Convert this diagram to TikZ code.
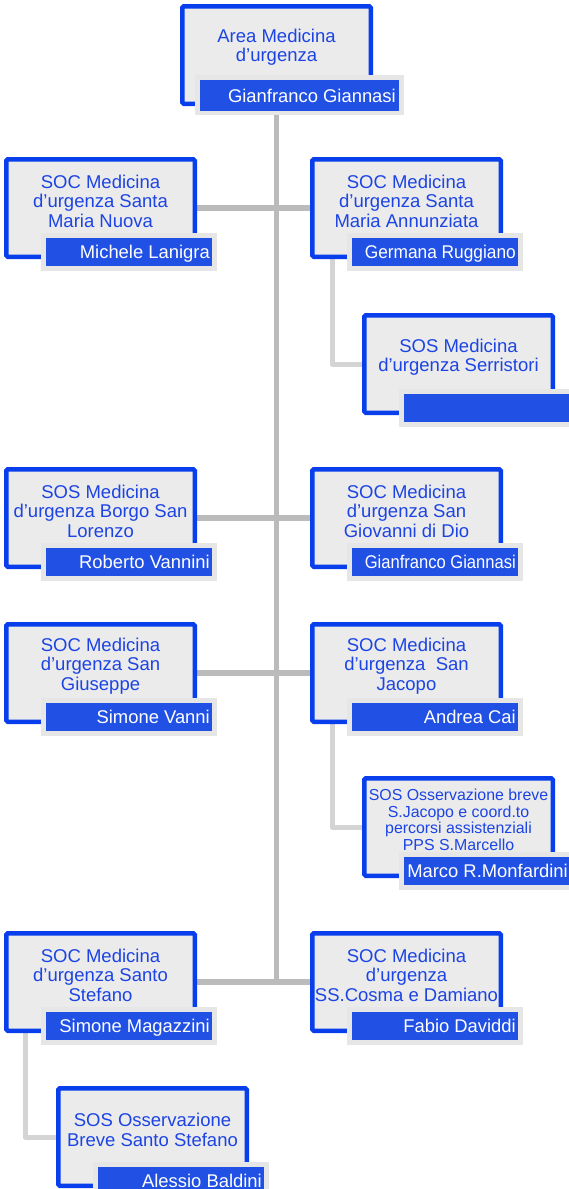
\documentclass[tikz,border=0pt]{standalone}
\usepackage{fontspec}
\setmainfont{Liberation Sans}
\usepackage{graphicx}
\usetikzlibrary{backgrounds}
\definecolor{bordblue}{RGB}{8,62,236}
\definecolor{barblue}{RGB}{32,80,228}
\definecolor{txtblue}{RGB}{28,68,228}
\definecolor{boxfill}{RGB}{235,235,235}
\definecolor{bargray}{RGB}{230,230,230}
\definecolor{trunkgray}{RGB}{187,187,187}
\definecolor{subgray}{RGB}{212,212,212}
\newsavebox\nmbox
\newcommand\fitname[2]{\sbox\nmbox{#2}\ifdim\wd\nmbox>#1\relax\resizebox{#1}{\height}{#2}\else\usebox\nmbox\fi}
\newcommand\orgunit[7]{%
  \node[unitbox] (#1) at (#2+96.5,#3+51) {};
  \node[#7] (#1-t) at (#2+96.5,#3+44) {#4};
  \node[namebg] (#1-g) at (#2+125,#3+95) {};
  \node[namebar] (#1-n) at (#2+125,#3+95) {};
  \node[nametext] (#1-p) at (#2+206,#3+101) {\fitname{#6}{#5}};
}
\tikzset{
  unitbox/.style={draw=bordblue, line width=4.5pt, fill=boxfill, rounded corners=1.5pt,
    minimum width=188.5pt, minimum height=97.5pt, inner sep=0pt},
  unittext/.style={text=txtblue, align=center, inner sep=0pt,
    font=\fontsize{18.5pt}{19.5pt}\selectfont},
  smalltext/.style={text=txtblue, align=center, inner sep=0pt,
    font=\fontsize{15.9pt}{16.5pt}\selectfont},
  namebg/.style={fill=bargray, minimum width=176pt, minimum height=38pt, inner sep=0pt, outer sep=0pt},
  namebar/.style={fill=barblue, minimum width=166pt, minimum height=28pt, inner sep=0pt, outer sep=0pt},
  nametext/.style={text=white, anchor=base east, inner sep=0pt,
    font=\fontsize{18.4pt}{20pt}\selectfont},
  trunk/.style={draw=trunkgray, line width=5.5pt},
  subline/.style={draw=subgray, line width=5pt, line join=round},
}
\begin{document}
\begin{tikzpicture}[x=1pt,y=-1pt]
\useasboundingbox (0,0) rectangle (568,1189);
% connector anchor columns
\coordinate (subR) at (332,0);
\coordinate (subL) at (25,0);
% top unit
\node[unitbox] (top) at (276.5,55) {};
\node[unittext] (top-t) at (276.5,47) {Area Medicina\\d’urgenza};
\node[fill=bargray, minimum width=209pt, minimum height=40pt, inner sep=0pt] (top-g) at (299.5,95) {};
\node[fill=barblue, minimum width=199pt, minimum height=31pt, inner sep=0pt] (top-n) at (299.5,95.5) {};
\node[nametext] (top-p) at (396,102) {Gianfranco Giannasi};
% units
\orgunit{smn}{4}{157}{SOC Medicina\\d’urgenza Santa\\Maria Nuova}{Michele Lanigra}{151pt}{unittext}
\orgunit{sma}{310}{157}{SOC Medicina\\d’urgenza Santa\\Maria Annunziata}{Germana Ruggiano}{151pt}{unittext}
\orgunit{serr}{362}{313}{SOS Medicina\\d’urgenza Serristori}{}{170pt}{unittext}
\orgunit{bsl}{4}{467}{SOS Medicina\\d’urgenza Borgo San\\Lorenzo}{Roberto Vannini}{151pt}{unittext}
\orgunit{sgd}{310}{467}{SOC Medicina\\d’urgenza San\\Giovanni di Dio}{Gianfranco Giannasi}{151pt}{unittext}
\orgunit{sgi}{4}{622}{SOC Medicina\\d’urgenza San\\Giuseppe}{Simone Vanni}{151pt}{unittext}
\orgunit{sja}{310}{622}{SOC Medicina\\d’urgenza\ \ San\\Jacopo}{Andrea Cai}{151pt}{unittext}
\orgunit{osb}{362}{776}{SOS Osservazione breve\\S.Jacopo e coord.to\\percorsi assistenziali\\PPS S.Marcello}{Marco R.Monfardini}{170pt}{smalltext}
\orgunit{sst}{4}{931}{SOC Medicina\\d’urgenza Santo\\Stefano}{Simone Magazzini}{155pt}{unittext}
\orgunit{scd}{310}{931}{SOC Medicina\\d’urgenza\\SS.Cosma e Damiano}{Fabio Daviddi}{151pt}{unittext}
\orgunit{ssb}{56}{1086}{SOS Osservazione\\Breve Santo Stefano}{Alessio Baldini}{151pt}{unittext}
% connectors (drawn behind boxes)
\begin{scope}[on background layer]
\fill[white] (0,0) rectangle (568,1189);
\draw[trunk] (top.south) -- (top.south |- sst.east);
\draw[trunk] (smn.east) -- (sma.west);
\draw[trunk] (bsl.east) -- (sgd.west);
\draw[trunk] (sgi.east) -- (sja.west);
\draw[trunk] (sst.east) -- (scd.west);
\draw[subline] (subR |- sma.south) |- (serr.west);
\draw[subline] (subR |- sja.south) |- (osb.west);
\draw[subline] (subL |- sst.south) |- (ssb.west);
\end{scope}
\end{tikzpicture}
\end{document}
